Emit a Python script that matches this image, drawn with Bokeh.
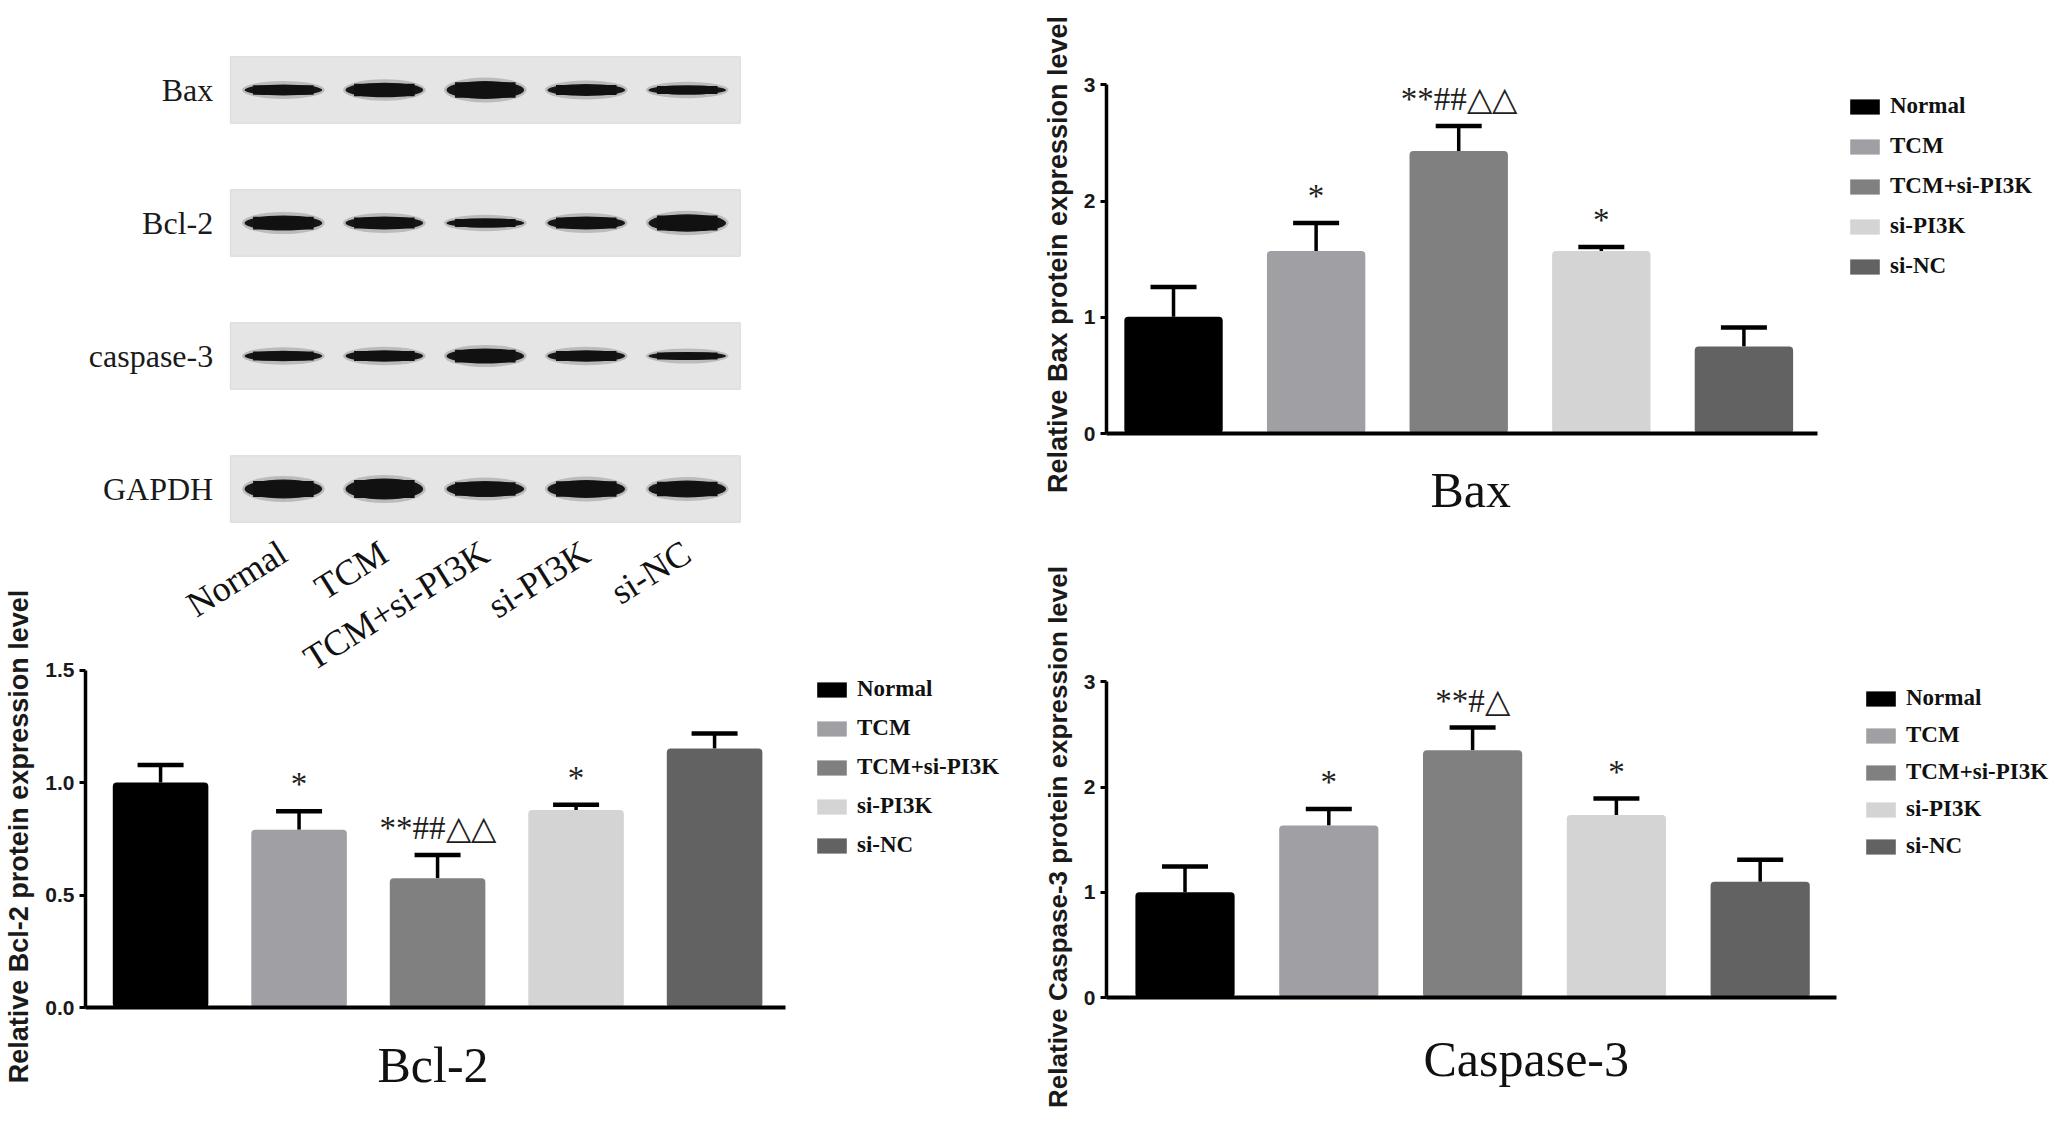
from bokeh.plotting import figure
from bokeh.models import (ColumnDataSource, FactorRange, Range1d, FixedTicker, Legend, LegendItem,
                          Whisker, TeeHead, Title, NumeralTickFormatter, VBar)
from bokeh.layouts import column, row
from bokeh.core.properties import value
from bokeh.embed import file_html
from bokeh.resources import INLINE

# ---------------- data ----------------
groups = ["Normal", "TCM", "TCM+si-PI3K", "si-PI3K", "si-NC"]
colors = ["#000000", "#a0a0a4", "#808080", "#d4d4d4", "#626262"]

bax_mean = [1.005, 1.57, 2.43, 1.57, 0.748]
bax_err = [0.255, 0.24, 0.215, 0.035, 0.165]
bax_sig = ["", "*", "**##△△", "*", ""]

bcl2_mean = [1.00, 0.79, 0.575, 0.878, 1.151]
bcl2_err = [0.078, 0.082, 0.103, 0.023, 0.067]
bcl2_sig = ["", "*", "**##△△", "*", ""]

casp_mean = [1.00, 1.635, 2.35, 1.735, 1.10]
casp_err = [0.245, 0.155, 0.215, 0.155, 0.21]
casp_sig = ["", "*", "**#△", "*", ""]

blot_proteins = ["Bax", "Bcl-2", "caspase-3", "GAPDH"]
blot_lanes = ["Normal", "TCM", "TCM+si-PI3K", "si-PI3K", "si-NC"]
band_bax = [11, 14.5, 18, 12, 9.5]
band_bcl2 = [15, 13, 9.5, 13, 17.5]
band_casp = [10.5, 11.5, 15, 11.5, 8]
band_gapdh = [19, 21, 16, 18, 17]

SERIF = value("Liberation Serif")
ROUND = {"border_radius": 4} if "border_radius" in VBar.properties() else {}


# ---------------- western blot ----------------
def make_blot():
    lane_x = list(range(len(blot_lanes)))
    p = figure(width=1035, height=715, output_backend="svg", toolbar_location=None,
               x_range=Range1d(-1.96, 7.40),
               y_range=FactorRange(factors=list(reversed(blot_proteins))),
               min_border_left=85, min_border_right=5, min_border_top=23, min_border_bottom=160)
    p.outline_line_color = None
    p.grid.visible = False
    p.background_fill_color = None
    p.border_fill_color = None
    p.yaxis.visible = False

    mid = (lane_x[0] + lane_x[-1]) / 2
    strip_w = len(blot_lanes) + 0.05
    strips = ColumnDataSource(dict(x=[mid] * len(blot_proteins), y=blot_proteins,
                                   lx=[mid - strip_w / 2 - 0.17] * len(blot_proteins)))
    p.rect(x="x", y="y", width=strip_w, height=0.5, source=strips,
           fill_color="#e5e5e5", line_color="#d8d8d8", line_width=1)
    p.text(x="lx", y="y", text="y", source=strips, text_align="right", text_baseline="middle",
           text_font=SERIF, text_font_size="32px", text_color="#1a1a1a")

    xs, ys, hs = [], [], []
    for prot, thick in zip(blot_proteins, [band_bax, band_bcl2, band_casp, band_gapdh]):
        for lx, t in zip(lane_x, thick):
            xs.append(lx)
            ys.append(prot)
            hs.append(t)
    bands = ColumnDataSource(dict(x=xs, y=ys, h=hs, h2=[h + 7 for h in hs], h3=[h * 0.85 for h in hs]))
    p.ellipse(x="x", y="y", width=0.82, height="h2", height_units="screen", source=bands,
              fill_color="#2a2a2a", fill_alpha=0.22, line_color=None)
    p.ellipse(x="x", y="y", width=0.77, height="h", height_units="screen", source=bands,
              fill_color="#161616", line_color=None)
    p.rect(x="x", y="y", width=0.60, height="h3", height_units="screen", source=bands,
           fill_color="#111111", line_color=None)

    xa = p.xaxis[0]
    xa.ticker = FixedTicker(ticks=lane_x)
    xa.major_label_overrides = {lx: name for lx, name in zip(lane_x, blot_lanes)}
    xa.axis_line_color = None
    xa.major_tick_line_color = None
    xa.minor_tick_line_color = None
    xa.major_label_orientation = 0.56
    xa.major_label_text_font = "Liberation Serif"
    xa.major_label_text_font_size = "36px"
    xa.major_label_text_color = "#111111"
    xa.major_label_standoff = -12
    return p


# ---------------- bar charts ----------------
def make_bar(width, height, borders, xr, ymax, ticks, fmt, ylabel, ylabel_size, means, errs, sigs,
             title, title_offset, title_standoff, legend_xy, legend_spacing):
    bl, br, bt, bb = borders
    x_start, x_axis_end, x_end = xr
    xs = list(range(len(groups)))
    p = figure(width=width, height=height, output_backend="svg", toolbar_location=None,
               x_range=Range1d(x_start, x_end), y_range=Range1d(0, ymax),
               min_border_left=bl, min_border_right=br, min_border_top=bt, min_border_bottom=bb)
    p.outline_line_color = None
    p.grid.visible = False
    p.background_fill_color = None
    p.border_fill_color = None

    src = ColumnDataSource(dict(x=xs, group=groups, mean=means, color=colors,
                                upper=[m + e for m, e in zip(means, errs)]))
    bars = p.vbar(x="x", top="mean", width=0.69, source=src, fill_color="color", line_color=None,
                  **ROUND)
    p.add_layout(Whisker(base="x", upper="upper", lower="mean", source=src,
                         line_color="#000000", line_width=3.5,
                         upper_head=TeeHead(size=46, line_width=4.5, line_color="#000000"),
                         lower_head=None))
    keep = [i for i, s in enumerate(sigs) if s]
    sig_src = ColumnDataSource(dict(x=[xs[i] for i in keep],
                                    y=[means[i] + errs[i] for i in keep],
                                    sig=[sigs[i] for i in keep]))
    p.text(x="x", y="y", text="sig", source=sig_src, text_align="center", text_baseline="middle",
           y_offset=-27, text_font=SERIF, text_font_size="33px", text_color="#1e1e1e")

    ya = p.yaxis[0]
    ya.ticker = FixedTicker(ticks=ticks)
    ya.bounds = (ticks[0], ticks[-1])
    ya.formatter = NumeralTickFormatter(format=fmt)
    ya.axis_line_width = 3.5
    ya.axis_line_color = "#000000"
    ya.major_tick_line_width = 3
    ya.major_tick_out = 6
    ya.major_tick_in = 0
    ya.minor_tick_line_color = None
    ya.major_label_text_font = "Liberation Sans"
    ya.major_label_text_font_style = "bold"
    ya.major_label_text_font_size = "21px"
    ya.major_label_text_color = "#1a1a1a"
    ya.major_label_standoff = 5
    ya.axis_label = ylabel
    ya.axis_label_text_font = "Liberation Sans"
    ya.axis_label_text_font_style = "bold"
    ya.axis_label_text_font_size = ylabel_size
    ya.axis_label_text_color = "#1a1a1a"
    ya.axis_label_standoff = 8

    xa = p.xaxis[0]
    xa.ticker = FixedTicker(ticks=[])
    xa.bounds = (x_start, x_axis_end)
    xa.axis_line_width = 4
    xa.axis_line_color = "#000000"
    xa.major_tick_line_color = None
    xa.minor_tick_line_color = None

    p.add_layout(Title(text=title, align="left", offset=title_offset, standoff=title_standoff,
                       vertical_align="bottom", text_font="Liberation Serif", text_font_size="50px",
                       text_font_style="normal", text_color="#111111"), "below")

    items = [LegendItem(label=g, renderers=[bars], index=i) for i, g in enumerate(groups)]
    leg = Legend(items=items, location=legend_xy, orientation="vertical",
                 margin=0, padding=0, spacing=legend_spacing,
                 glyph_width=37, glyph_height=19, label_height=19, label_standoff=7,
                 label_text_font="Liberation Serif", label_text_font_style="bold",
                 label_text_font_size="23px", label_text_color="#111111",
                 border_line_color=None, background_fill_color=None)
    p.add_layout(leg)
    return p


blot = make_blot()

bcl2 = make_bar(1035, 534, (85, 5, 77, 115), (-0.542, 4.512, 6.281), 1.52, [0, 0.5, 1.0, 1.5], "0.0",
                "Relative Bcl-2 protein expression level", "27px",
                bcl2_mean, bcl2_err, bcl2_sig, "Bcl-2", 292, 54, (728, 149), 13)
bcl2.margin = (-127, 0, 0, 0)

bax = make_bar(1020, 565, (71, 5, 75, 132), (-0.470, 4.516, 6.150), 3.08, [0, 1, 2, 3], "0",
               "Relative Bax protein expression level", "27px",
               bax_mean, bax_err, bax_sig, "Bax", 324, 52, (740, 154), 14)

casp = make_bar(1020, 557, (71, 5, 111, 125), (-0.546, 4.530, 6.019), 3.05, [0, 1, 2, 3], "0",
                "Relative Caspase-3 protein expression level", "26px",
                casp_mean, casp_err, casp_sig, "Caspase-3", 317, 62, (756, 138), 11)

layout = row(column(blot, bcl2), column(bax, casp))

open("out.html", "w").write(file_html(layout, INLINE))
